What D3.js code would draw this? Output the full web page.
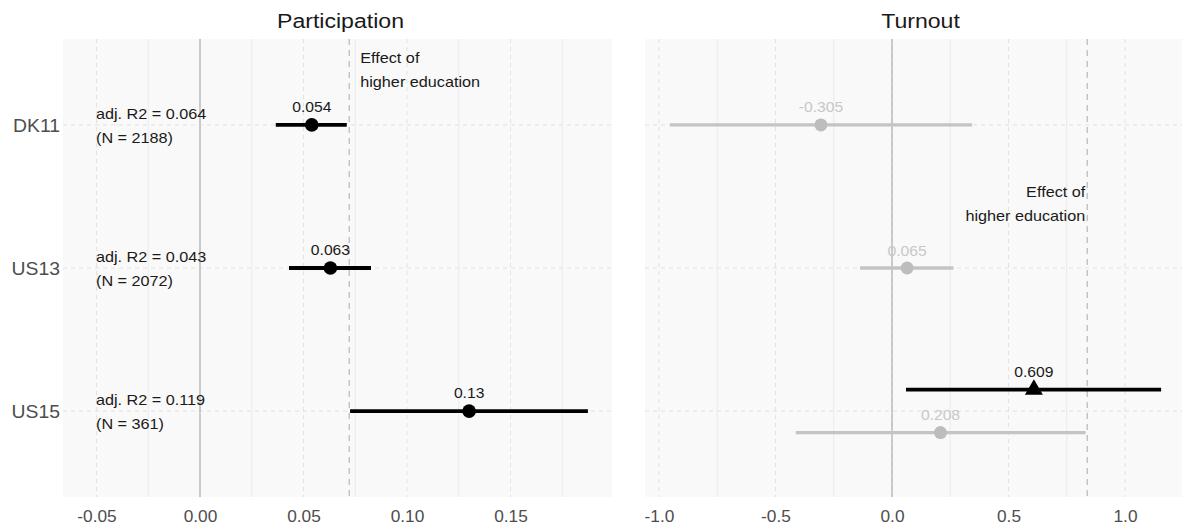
<!DOCTYPE html>
<html>
<head>
<meta charset="utf-8">
<script src="https://cdn.jsdelivr.net/npm/d3@7"></script>
<style>
  html, body { margin: 0; padding: 0; background: #ffffff; }
  svg { display: block; font-family: "Liberation Sans", Arial, Helvetica, sans-serif; }
</style>
</head>
<body>
<svg id="chart" width="1182" height="527"></svg>
<script>
// ---- data ----
const countries = ["DK11", "US13", "US15"];

// Participation: effect estimates with confidence bounds
const partEst = [0.054, 0.063, 0.13];
const partLo  = [0.0366, 0.043, 0.0725];
const partHi  = [0.0709, 0.0826, 0.1874];
const partR2  = ["0.064", "0.043", "0.119"];
const partN   = [2188, 2072, 361];

// Turnout: baseline models (grey) for every survey
const turnEst = [-0.305, 0.065, 0.208];
const turnLo  = [-0.953, -0.137, -0.413];
const turnHi  = [0.343, 0.264, 0.831];

// Turnout: highlighted model (black triangle), US15 only
const turnHiCountries = ["US15"];
const turnHiEst = [0.609];
const turnHiLo  = [0.060];
const turnHiHi  = [1.155];

// Reference effect of higher education per outcome
const effectPart = 0.0721;
const effectTurn = 0.838;

const partTicks = [-0.05, 0.00, 0.05, 0.10, 0.15];
const partMinor = [-0.025, 0.025, 0.075, 0.125, 0.175];
const turnTicks = [-1.0, -0.5, 0.0, 0.5, 1.0];
const turnMinor = [-0.75, -0.25, 0.25, 0.75];

// ---- layout ----
const svg = d3.select("#chart");
const panelTop = 39, panelBottom = 497;
const SX = 1.08; // horizontal text stretch

const y = d3.scalePoint().domain(countries).range([panelTop, panelBottom]).padding(0.6);
const dodge = y.step() * 0.15;

const xPart = d3.scaleLinear().domain([-0.06618, 0.19903]).range([63, 612]);
const xTurn = d3.scaleLinear().domain([-1.0601, 1.2790]).range([645, 1190]);

function txt(g, x, yy, s, opts) {
  return g.append("text")
    .attr("transform", `translate(${x},${yy}) scale(${opts.sx || SX},1)`)
    .attr("font-size", opts.size)
    .attr("fill", opts.fill || "#1a1a1a")
    .attr("text-anchor", opts.anchor || "start")
    .text(s);
}

function panel(x, ticks, minor, title, effect, fmt) {
  const g = svg.append("g");
  const [x0, x1] = x.range();
  g.append("rect").attr("x", x0).attr("y", panelTop)
    .attr("width", x1 - x0).attr("height", panelBottom - panelTop).attr("fill", "#f9f9f9");

  // minor vertical grid (solid)
  g.selectAll(".minor").data(minor).join("line").attr("class", "minor")
    .attr("x1", d => x(d)).attr("x2", d => x(d))
    .attr("y1", panelTop).attr("y2", panelBottom)
    .attr("stroke", "#ebebeb").attr("stroke-width", 1);
  // major vertical grid (dashed)
  g.selectAll(".major").data(ticks).join("line").attr("class", "major")
    .attr("x1", d => x(d)).attr("x2", d => x(d))
    .attr("y1", panelTop).attr("y2", panelBottom)
    .attr("stroke", "#e2e2e2").attr("stroke-width", 1)
    .attr("stroke-dasharray", "4,4");
  // horizontal grid at each survey (dashed)
  g.selectAll(".hgrid").data(countries).join("line").attr("class", "hgrid")
    .attr("x1", x0).attr("x2", x1)
    .attr("y1", d => y(d)).attr("y2", d => y(d))
    .attr("stroke", "#e2e2e2").attr("stroke-width", 1)
    .attr("stroke-dasharray", "4,4");

  // zero line
  g.append("line").attr("x1", x(0)).attr("x2", x(0))
    .attr("y1", panelTop).attr("y2", panelBottom)
    .attr("stroke", "#a8a8a8").attr("stroke-width", 1.1);
  // effect of higher education
  g.append("line").attr("x1", x(effect)).attr("x2", x(effect))
    .attr("y1", panelTop).attr("y2", panelBottom)
    .attr("stroke", "#bdbdbd").attr("stroke-width", 1.3)
    .attr("stroke-dasharray", "6,5");

  // x axis
  const ax = svg.append("g").attr("transform", `translate(0,${panelBottom})`)
    .call(d3.axisBottom(x).tickValues(ticks).tickSize(0).tickPadding(9).tickFormat(fmt));
  ax.select(".domain").remove();
  ax.selectAll("text")
    .attr("font-family", "Liberation Sans, Arial, sans-serif")
    .attr("font-size", 16).attr("fill", "#4d4d4d")
    .attr("dy", null).attr("y", 25)
    .attr("transform", `scale(${SX},1)`);

  // facet title
  txt(svg, (x0 + x1) / 2 + 3, 28, title, { size: 21, anchor: "middle", fill: "#1a1a1a", sx: 1.1 });
  return g;
}

const fmt2 = v => v.toFixed(2);
const fmt1 = v => v.toFixed(1);

const gp = panel(xPart, partTicks, partMinor, "Participation", effectPart, fmt2);
const gt = panel(xTurn, turnTicks, turnMinor, "Turnout", effectTurn, fmt1);

// y axis labels
countries.forEach(c => {
  txt(svg, 60, y(c) + 7, c, { size: 19, anchor: "end", fill: "#4d4d4d", sx: 1.02 });
});

// ---- Participation marks ----
const partData = countries.map((c, i) => ({ c, est: partEst[i], lo: partLo[i], hi: partHi[i] }));
gp.selectAll(".ci").data(partData).join("line").attr("class", "ci")
  .attr("x1", d => xPart(d.lo)).attr("x2", d => xPart(d.hi))
  .attr("y1", d => y(d.c)).attr("y2", d => y(d.c))
  .attr("stroke", "#000").attr("stroke-width", 3.8);
gp.selectAll(".pt").data(partData).join("circle").attr("class", "pt")
  .attr("cx", d => xPart(d.est)).attr("cy", d => y(d.c)).attr("r", 6.8)
  .attr("fill", "#000");
partData.forEach(d => {
  txt(gp, xPart(d.est), y(d.c) - 13, String(d.est), { size: 14.5, anchor: "middle", fill: "#1a1a1a" });
});
countries.forEach((c, i) => {
  txt(gp, 96, y(c) - 6, `adj. R2 = ${partR2[i]}`, { size: 15 });
  txt(gp, 96, y(c) + 18, `(N = ${partN[i]})`, { size: 15 });
});
txt(gp, xPart(effectPart) + 11, 63, "Effect of", { size: 15 });
txt(gp, xPart(effectPart) + 11, 87, "higher education", { size: 15 });

// ---- Turnout marks ----
const hasBoth = new Set(turnHiCountries);
const greyData = countries.map((c, i) => ({
  c, est: turnEst[i], lo: turnLo[i], hi: turnHi[i],
  yy: y(c) + (hasBoth.has(c) ? dodge : 0)
}));
const blackData = turnHiCountries.map((c, i) => ({
  c, est: turnHiEst[i], lo: turnHiLo[i], hi: turnHiHi[i], yy: y(c) - dodge
}));

gt.selectAll(".gci").data(greyData).join("line").attr("class", "gci")
  .attr("x1", d => xTurn(d.lo)).attr("x2", d => xTurn(d.hi))
  .attr("y1", d => d.yy).attr("y2", d => d.yy)
  .attr("stroke", "#c4c4c4").attr("stroke-width", 3.4);
gt.selectAll(".gpt").data(greyData).join("circle").attr("class", "gpt")
  .attr("cx", d => xTurn(d.est)).attr("cy", d => d.yy).attr("r", 6.5)
  .attr("fill", "#bdbdbd");
greyData.forEach(d => {
  txt(gt, xTurn(d.est), d.yy - 12.5, String(d.est), { size: 14.5, anchor: "middle", fill: "#c8c8c8" });
});

gt.selectAll(".bci").data(blackData).join("line").attr("class", "bci")
  .attr("x1", d => xTurn(d.lo)).attr("x2", d => xTurn(d.hi))
  .attr("y1", d => d.yy).attr("y2", d => d.yy)
  .attr("stroke", "#000").attr("stroke-width", 3.8);
gt.selectAll(".bpt").data(blackData).join("path").attr("class", "bpt")
  .attr("transform", d => `translate(${xTurn(d.est)},${d.yy})`)
  .attr("d", d3.symbol(d3.symbolTriangle, 140))
  .attr("fill", "#000");
blackData.forEach(d => {
  txt(gt, xTurn(d.est), d.yy - 13, String(d.est), { size: 14.5, anchor: "middle", fill: "#1a1a1a" });
});

txt(gt, xTurn(effectTurn) - 2, 197, "Effect of", { size: 15, anchor: "end" });
txt(gt, xTurn(effectTurn) - 2, 221, "higher education", { size: 15, anchor: "end" });
</script>
</body>
</html>
